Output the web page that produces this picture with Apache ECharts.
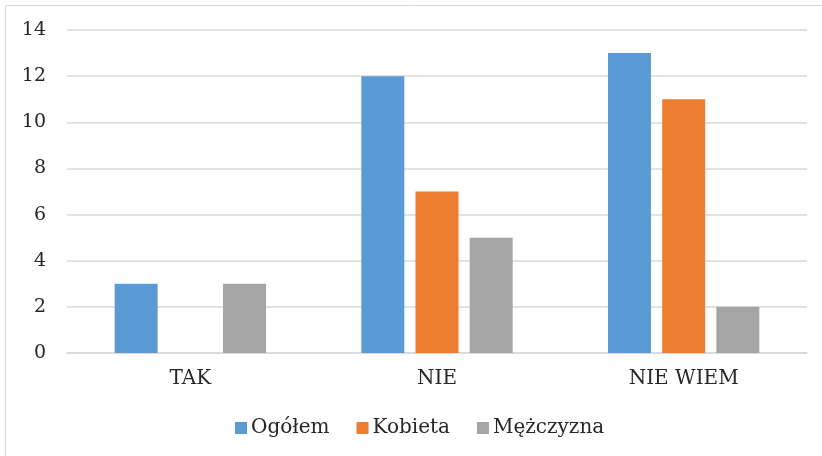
<!DOCTYPE html>
<html>
<head>
<meta charset="utf-8">
<script src="https://cdn.jsdelivr.net/npm/echarts@6/dist/echarts.min.js"></script>
<style>
  html, body { margin: 0; padding: 0; background: #fff; }
  #chart { width: 822px; height: 456px; }
</style>
</head>
<body>
<div id="chart"></div>
<script>
  var categories = ['TAK', 'NIE', 'NIE WIEM'];
  var ogolem = [3, 12, 13];
  var kobieta = [0, 7, 11];
  var mezczyzna = [3, 5, 2];
  var seriesNames = ['Ogółem', 'Kobieta', 'Mężczyzna'];

  var chart = echarts.init(document.getElementById('chart'));
  var font = '"DejaVu Serif", "Liberation Serif", serif';

  chart.setOption({
    animation: false,
    textStyle: { fontFamily: font },
    graphic: [{
      type: 'rect',
      shape: { x: 5.5, y: 5.5, width: 840, height: 470 },
      style: { fill: 'none', stroke: '#d9d9d9', lineWidth: 1 },
      silent: true
    }],
    grid: { left: 67, right: 15, top: 30, bottom: 103 },
    legend: {
      data: seriesNames,
      left: 230,
      top: 413,
      itemWidth: 12,
      itemHeight: 12,
      itemGap: 27,
      icon: 'rect',
      textStyle: { fontFamily: font, fontSize: 20, color: '#262626', padding: [0, 0, 0, -1] }
    },
    xAxis: {
      type: 'category',
      data: categories,
      axisLine: { lineStyle: { color: '#d9d9d9', width: 1.5 } },
      axisTick: { show: false },
      axisLabel: { fontFamily: font, fontSize: 20, color: '#262626', margin: 16 }
    },
    yAxis: {
      type: 'value',
      min: 0,
      max: 14,
      interval: 2,
      axisLine: { show: false },
      axisTick: { show: false },
      splitLine: { lineStyle: { color: '#d9d9d9', width: 1.5 } },
      axisLabel: { fontFamily: font, fontSize: 19, color: '#262626', margin: 21 }
    },
    series: [
      { name: seriesNames[0], type: 'bar', data: ogolem, barWidth: 43, barGap: '26%', itemStyle: { color: '#5b9bd5' } },
      { name: seriesNames[1], type: 'bar', data: kobieta, barWidth: 43, barGap: '26%', itemStyle: { color: '#ed7d31' } },
      { name: seriesNames[2], type: 'bar', data: mezczyzna, barWidth: 43, barGap: '26%', itemStyle: { color: '#a5a5a5' } }
    ]
  });
</script>
</body>
</html>
